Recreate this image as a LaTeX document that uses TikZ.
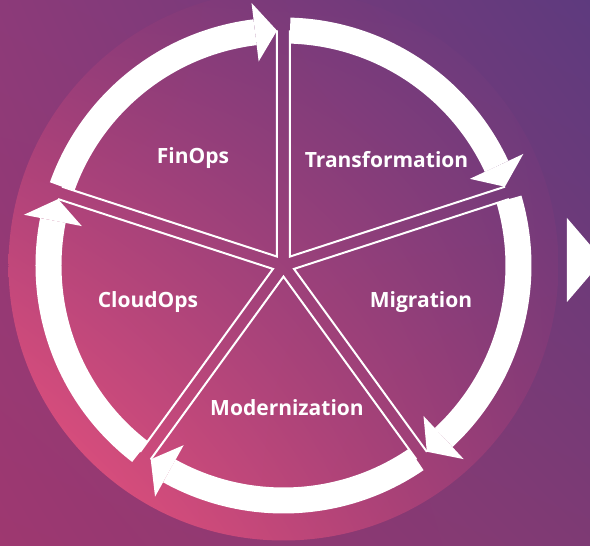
\documentclass[tikz,border=0pt]{standalone}
\usepackage{fontspec}
\setmainfont{Open Sans}
\usetikzlibrary{calc,shadings}
\definecolor{bgUL}{HTML}{8C3A79}
\definecolor{bgUR}{HTML}{5E3A7E}
\definecolor{bgLL}{HTML}{9E3870}
\definecolor{bgLR}{HTML}{7E3A74}
\definecolor{cUL}{HTML}{923A77}
\definecolor{cUR}{HTML}{5E3A7E}
\definecolor{cLL}{HTML}{F0547E}
\definecolor{cLR}{HTML}{923A74}
\begin{document}
\begin{tikzpicture}[x=1pt,y=1pt,
  band/.style={draw=white, line width=26pt},
  edgeline/.style={draw=white, line width=2pt, line join=miter},
  headfill/.style={fill=white},
  lbl/.style={text=white, inner sep=0pt, anchor=base, font=\bfseries\fontsize{21}{25}\selectfont}]
\useasboundingbox (-283.5,-280.5) rectangle (306.5,265.5);
\clip (-283.5,-280.5) rectangle (306.5,265.5);
\shade[upper left=bgUL, upper right=bgUR, lower left=bgLL, lower right=bgLR]
  (-283.5,-280.5) rectangle (306.5,265.5);
\shade[upper left=cUL, upper right=cUR, lower left=cLL, lower right=cLR]
  (0,0) circle[radius=275];
% wheel
\foreach \a/\nm in {90/tr, 18/mi, -54/mo, -126/cl, 162/fi} {
  \pgfmathsetmacro\b{\a-72}
  \pgfmathsetmacro\st{\a-1.585}
  \pgfmathsetmacro\tp{\b+1.585}
  \pgfmathsetmacro\hb{\b+1.585+5.36}
  \coordinate (apex-\nm) at (\a-36:11.06);
  \coordinate (e1-\nm) at ($(\a:235)+(\a-90:6.5)$);
  \coordinate (e2-\nm) at ($(\b:235)+(\b+90:6.5)$);
  \coordinate (tip-\nm) at (\tp:235);
  \coordinate (hb1-\nm) at (\hb:205.5);
  \coordinate (hb2-\nm) at (\hb:264.5);
  \draw[edgeline] (e1-\nm) -- (apex-\nm) -- (e2-\nm);
  \draw[band] (\st:235) arc[start angle=\st, end angle=\hb, radius=235];
  \fill[headfill] (hb1-\nm) -- (hb2-\nm) -- (tip-\nm) -- cycle;
}
\node[lbl] (tTr) at (103,98.2) {Transformation};
\node[lbl] (tMi) at (137.5,-42.5) {Migration};
\node[lbl] (tMo) at (3.5,-150.5) {Modernization};
\node[lbl] (tCl) at (-135.5,-42.5) {CloudOps};
\node[lbl] (tFi) at (-90.5,101.5) {FinOps};
% right arrow
\fill[white] (283.5,47.5) -- (283.5,-36.5) -- (319.5,5.5) -- cycle;
\end{tikzpicture}
\end{document}
